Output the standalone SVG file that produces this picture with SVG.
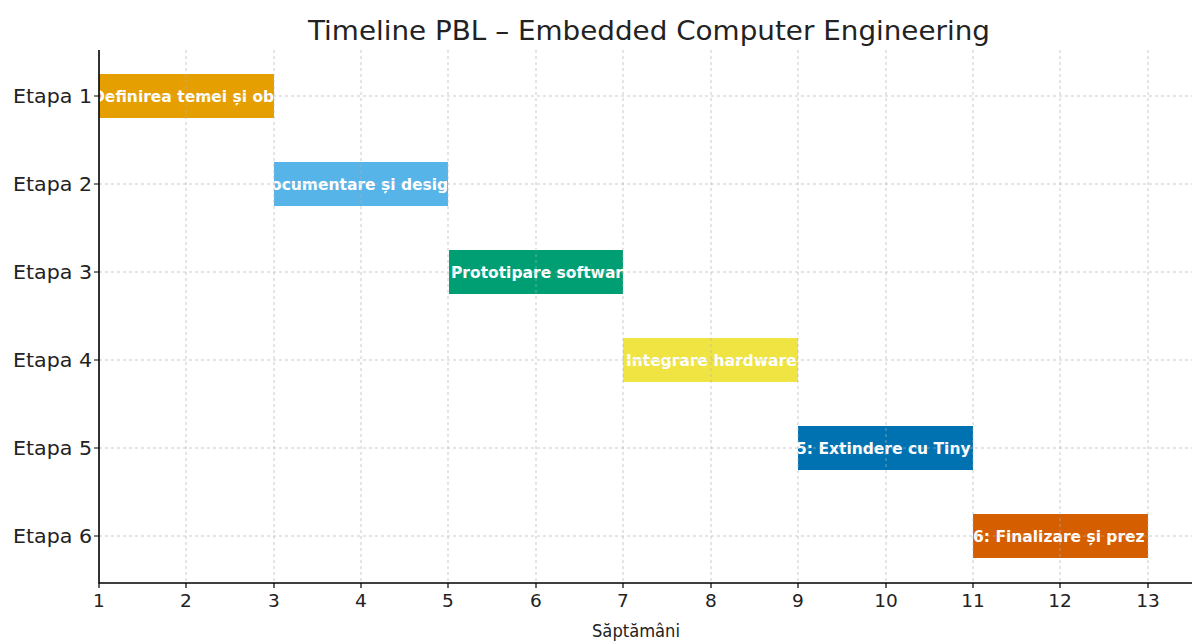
<svg xmlns="http://www.w3.org/2000/svg" width="1192" height="641" viewBox="0 0 1192 641">
<style>
.grid{stroke:#b0b0b0;stroke-width:1;stroke-dasharray:3,3;opacity:0.65;fill:none}
.spine{stroke:#000;stroke-width:1.6;fill:none}
.tick{stroke:#000;stroke-width:1.2}
.tl{font-family:"DejaVu Sans",sans-serif;font-size:18.5px;fill:#222}
.yl{font-family:"DejaVu Sans",sans-serif;font-size:20px;fill:#222;text-anchor:end}
.bl{font-family:"DejaVu Sans",sans-serif;font-size:15.5px;font-weight:bold;fill:#fff}
.title{font-family:"DejaVu Sans",sans-serif;font-size:27px;fill:#222;text-anchor:middle}
</style>
<defs>
<clipPath id="c1"><rect x="99" y="74" width="175" height="44"/></clipPath>
<clipPath id="c2"><rect x="274" y="162" width="174" height="44"/></clipPath>
<clipPath id="c3"><rect x="449" y="250" width="174" height="44"/></clipPath>
<clipPath id="c4"><rect x="623" y="338" width="175" height="44"/></clipPath>
<clipPath id="c5"><rect x="798" y="426" width="175" height="44"/></clipPath>
<clipPath id="c6"><rect x="973" y="514" width="175" height="44"/></clipPath>
</defs>
<rect width="1192" height="641" fill="#fff"/>
<text class="title" x="649" y="40" textLength="682" lengthAdjust="spacingAndGlyphs">Timeline PBL – Embedded Computer Engineering</text>

<g id="bar1"><rect x="99" y="74" width="175" height="44" fill="#E69F00"/><text class="bl" x="92" y="102" clip-path="url(#c1)">Definirea temei și ob</text></g>
<g id="bar2"><rect x="274" y="162" width="174" height="44" fill="#56B4E9"/><text class="bl" x="271" y="190" clip-path="url(#c2)">ocumentare și desig</text></g>
<g id="bar3"><rect x="449" y="250" width="174" height="44" fill="#009E73"/><text class="bl" x="451" y="278" clip-path="url(#c3)">Prototipare softwar</text></g>
<g id="bar4"><rect x="623" y="338" width="175" height="44" fill="#F0E442"/><text class="bl" x="626" y="366" clip-path="url(#c4)">Integrare hardware-</text></g>
<g id="bar5"><rect x="798" y="426" width="175" height="44" fill="#0072B2"/><text class="bl" x="796" y="454" clip-path="url(#c5)">5: Extindere cu Tiny</text></g>
<g id="bar6"><rect x="973" y="514" width="175" height="44" fill="#D55E00"/><text class="bl" x="973" y="542" clip-path="url(#c6)">6: Finalizare și prez</text></g>

<g id="grid">
<path class="grid" d="M186,50V583M274,50V583M361,50V583M448,50V583M536,50V583M623,50V583M711,50V583M798,50V583M886,50V583M973,50V583M1060,50V583M1148,50V583"/>
<path class="grid" d="M99,96H1192M99,184H1192M99,272H1192M99,360H1192M99,448H1192M99,536H1192"/>
</g>

<g id="axes">
<path class="spine" d="M99,50V583H1192"/>
<path class="tick" d="M99,583v5M186,583v5M274,583v5M361,583v5M448,583v5M536,583v5M623,583v5M711,583v5M798,583v5M886,583v5M973,583v5M1060,583v5M1148,583v5"/>
<path class="tick" d="M99,96h-5M99,184h-5M99,272h-5M99,360h-5M99,448h-5M99,536h-5"/>
<g class="tl" text-anchor="middle">
<text x="99" y="607">1</text><text x="186" y="607">2</text><text x="274" y="607">3</text><text x="361" y="607">4</text><text x="448" y="607">5</text><text x="536" y="607">6</text><text x="623" y="607">7</text><text x="711" y="607">8</text><text x="798" y="607">9</text><text x="886" y="607">10</text><text x="973" y="607">11</text><text x="1060" y="607">12</text><text x="1148" y="607">13</text>
</g>
<text class="yl" x="92" y="103" textLength="79" lengthAdjust="spacingAndGlyphs">Etapa 1</text>
<text class="yl" x="92" y="191" textLength="79" lengthAdjust="spacingAndGlyphs">Etapa 2</text>
<text class="yl" x="92" y="279" textLength="79" lengthAdjust="spacingAndGlyphs">Etapa 3</text>
<text class="yl" x="92" y="367" textLength="79" lengthAdjust="spacingAndGlyphs">Etapa 4</text>
<text class="yl" x="92" y="455" textLength="79" lengthAdjust="spacingAndGlyphs">Etapa 5</text>
<text class="yl" x="92" y="543" textLength="79" lengthAdjust="spacingAndGlyphs">Etapa 6</text>
<text class="tl" x="636" y="637" text-anchor="middle" textLength="88" lengthAdjust="spacingAndGlyphs">Săptămâni</text>
</g>
</svg>
